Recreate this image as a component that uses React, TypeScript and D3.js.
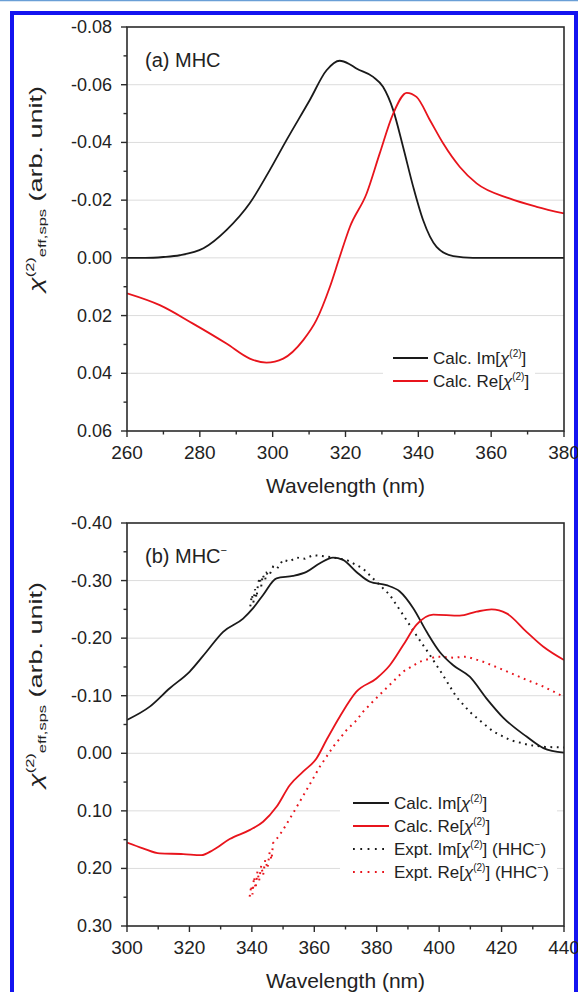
import React from 'react';
import * as d3 from 'd3';

const W = 578;
const H = 992;
const FONT = 'Arial, "Liberation Sans", Helvetica, sans-serif';
const RED = '#e8141c';
const BLACK = '#1a1a1a';
const AXIS = '#2b2b2b';

// (a) MHC — [wavelength nm, chi value]
const mhcCalcIm: [number, number][] = [
  [260, 0], [265, 0], [270, -0.0003], [274.5, -0.0009], [281, -0.0033], [287.3, -0.0096],
  [293.7, -0.0189], [299.2, -0.0304], [303.8, -0.0408], [310.2, -0.0547], [314.8, -0.065],
  [318.4, -0.0683], [321, -0.0672], [323, -0.0656], [327.6, -0.0627], [330.3, -0.0593],
  [333.1, -0.0512], [335.8, -0.0385], [338.6, -0.0246], [341.3, -0.0131], [345, -0.0038],
  [349.6, -0.0006], [355, 0], [380, 0],
];
const mhcCalcRe: [number, number][] = [
  [260, 0.0123], [269, 0.0164], [278, 0.0227], [287.3, 0.0297], [293.7, 0.0349], [298.3, 0.0363],
  [302.9, 0.0349], [308.4, 0.0285], [312, 0.0216], [315.7, 0.0101], [318.4, -0.0003],
  [321.2, -0.0107], [325.8, -0.0223], [329.4, -0.0362], [333.1, -0.05], [336.8, -0.0572],
  [339.5, -0.0558], [343.2, -0.0477], [346.8, -0.0397], [351.4, -0.0315], [356, -0.0258],
  [365, -0.0206], [372.5, -0.0177], [380, -0.0154],
];

// (b) MHC- calculated and HHC- experiment
const mhcnCalcIm: [number, number][] = [
  [300, -0.058], [307.3, -0.081], [313.7, -0.113], [320.1, -0.142], [325.4, -0.176], [330.8, -0.211],
  [337.2, -0.234], [340.4, -0.252], [343.6, -0.275], [347.9, -0.304], [353.2, -0.308], [357.5, -0.315],
  [361.8, -0.33], [366, -0.34], [369.2, -0.336], [373.5, -0.315], [377.8, -0.298], [383.1, -0.292],
  [387.4, -0.281], [391.7, -0.252], [396, -0.211], [400.2, -0.176], [404.5, -0.153], [409.8, -0.133],
  [415.2, -0.095], [420.5, -0.062], [428, -0.029], [433.4, -0.009], [440, -0.001],
];
const mhcnCalcRe: [number, number][] = [
  [300, 0.155], [305.1, 0.165], [310.5, 0.174], [318, 0.175], [323.8, 0.177], [327.6, 0.168],
  [332.9, 0.149], [339.4, 0.133], [343.6, 0.119], [347.9, 0.093], [352.2, 0.055], [356.4, 0.032],
  [360.7, 0.009], [363.9, -0.023], [368.2, -0.064], [373.5, -0.107], [379.9, -0.13], [384.2, -0.153],
  [388.5, -0.188], [392.7, -0.223], [398.1, -0.241], [406.6, -0.239], [412, -0.246], [416.8, -0.25],
  [421.6, -0.243], [428, -0.211], [433.4, -0.185], [440, -0.162],
];
const hhcExptIm: [number, number][] = [
  [339.5, -0.255], [340, -0.275], [340.5, -0.262], [341, -0.285], [341.5, -0.27], [342, -0.295],
  [342.5, -0.305], [343, -0.29], [343.5, -0.31], [344.2, -0.3], [344.7, -0.313], [345.5, -0.308],
  [346.8, -0.324], [348, -0.32], [350, -0.336], [352, -0.333], [354.3, -0.34], [357, -0.338],
  [359.6, -0.344], [362, -0.343], [365, -0.341], [370.3, -0.336], [375.6, -0.321], [379.9, -0.298],
  [384.2, -0.275], [388.5, -0.24], [392.7, -0.205], [397, -0.171], [401.2, -0.136], [405.5, -0.098],
  [409.8, -0.072], [414.1, -0.052], [417.3, -0.038], [422.7, -0.023], [429.1, -0.014], [434, -0.011],
  [440, -0.01],
];
const hhcExptRe: [number, number][] = [
  [339.3, 0.249], [339.8, 0.23], [340.2, 0.245], [340.7, 0.215], [341.2, 0.235], [341.8, 0.205],
  [342.3, 0.222], [343, 0.195], [343.6, 0.212], [344.3, 0.185], [345, 0.2], [345.7, 0.172],
  [346.3, 0.185], [346.8, 0.156], [348.5, 0.145], [350, 0.133], [353.2, 0.104], [357.5, 0.064],
  [361.8, 0.023], [366, -0.011], [370.3, -0.04], [373.5, -0.057], [375.6, -0.072], [378.8, -0.09],
  [384.2, -0.119], [388.5, -0.142], [393.8, -0.159], [399.1, -0.168], [404.5, -0.166], [408.8, -0.168],
  [414.1, -0.159], [420.5, -0.145], [426.9, -0.13], [433.4, -0.116], [440, -0.098],
];

const xTicksA = [260, 280, 300, 320, 340, 360, 380];
const yTicksA = [-0.08, -0.06, -0.04, -0.02, 0, 0.02, 0.04, 0.06];
const xTicksB = [300, 320, 340, 360, 380, 400, 420, 440];
const yTicksB = [-0.4, -0.3, -0.2, -0.1, 0, 0.1, 0.2, 0.3];

const LEFT = 127;
const RIGHT = 564;

type Series = { data: [number, number][]; color: string; dotted?: boolean };
type LegendItem = { color: string; dotted?: boolean; pre: string; post?: boolean };

const midpoints = (t: number[]) => t.slice(0, -1).map((v, i) => (v + t[i + 1]) / 2);

const Chi = ({ pre, post }: { pre: string; post?: boolean }) => (
  <>
    {pre}
    <tspan fontStyle="italic">χ</tspan>
    <tspan fontSize={10} dy={-7}>(2)</tspan>
    <tspan dy={7}>]</tspan>
    {post && (
      <>
        <tspan> (HHC</tspan>
        <tspan fontSize={10} dy={-7}>−</tspan>
        <tspan dy={7}>)</tspan>
      </>
    )}
  </>
);

function Panel(props: {
  id: string;
  top: number;
  bottom: number;
  xTicks: number[];
  yTicks: number[];
  series: Series[];
  title: string;
  titleSup?: boolean;
  legend: LegendItem[];
  legendBox: { x0: number; x1: number; y0: number; y1: number };
  legendLine: [number, number];
  legendY0: number;
}) {
  const { id, top, bottom, xTicks, yTicks, series, legend, legendBox, legendLine, legendY0 } = props;
  const x = d3.scaleLinear().domain([xTicks[0], xTicks[xTicks.length - 1]]).range([LEFT, RIGHT]);
  const y = d3.scaleLinear().domain([yTicks[0], yTicks[yTicks.length - 1]]).range([top, bottom]);
  const line = (s: Series) =>
    d3
      .line<[number, number]>()
      .x((d) => x(d[0]))
      .y((d) => y(d[1]))
      .curve(s.dotted ? d3.curveLinear : d3.curveMonotoneX)(s.data) || '';

  const xMinor = midpoints(xTicks);
  const yMinor = midpoints(yTicks);
  const cy = top + 162;

  return (
    <g>
      <defs>
        <clipPath id={id}>
          <rect x={LEFT} y={top} width={RIGHT - LEFT} height={bottom - top} />
        </clipPath>
      </defs>
      {/* grid */}
      {yTicks.slice(1, -1).map((t) => (
        <line key={t} x1={LEFT} x2={RIGHT} y1={y(t)} y2={y(t)} stroke="#dcdcdc" strokeWidth={1} />
      ))}
      {/* legend background */}
      <rect x={legendBox.x0} y={legendBox.y0} width={legendBox.x1 - legendBox.x0} height={legendBox.y1 - legendBox.y0} fill="#fff" />
      {/* series */}
      <g clipPath={`url(#${id})`}>
        {series.map((s, i) => (
          <path
            key={i}
            d={line(s)}
            fill="none"
            stroke={s.color}
            strokeWidth={s.dotted ? 2 : 1.8}
            strokeDasharray={s.dotted ? '1.8 4.6' : undefined}
          />
        ))}
      </g>
      {/* frame */}
      <rect x={LEFT} y={top} width={RIGHT - LEFT} height={bottom - top} fill="none" stroke={AXIS} strokeWidth={1.6} />
      {/* y ticks */}
      {yTicks.map((t) => (
        <g key={t}>
          <line x1={LEFT - 6} x2={LEFT} y1={y(t)} y2={y(t)} stroke={AXIS} strokeWidth={1.4} />
          <text x={LEFT - 15} y={y(t) + 6} textAnchor="end" fontSize={18} fill="#222" fontFamily={FONT}>
            {t.toFixed(2)}
          </text>
        </g>
      ))}
      {yMinor.map((t) => (
        <line key={t} x1={LEFT - 3.5} x2={LEFT} y1={y(t)} y2={y(t)} stroke={AXIS} strokeWidth={1.4} />
      ))}
      {/* x ticks */}
      {xTicks.map((t) => (
        <g key={t}>
          <line x1={x(t)} x2={x(t)} y1={bottom} y2={bottom + 6} stroke={AXIS} strokeWidth={1.4} />
          <text x={x(t)} y={bottom + 28} textAnchor="middle" fontSize={19} fill="#222" fontFamily={FONT}>
            {t}
          </text>
        </g>
      ))}
      {xMinor.map((t) => (
        <line key={t} x1={x(t)} x2={x(t)} y1={bottom} y2={bottom + 3.5} stroke={AXIS} strokeWidth={1.4} />
      ))}
      <text x={(LEFT + RIGHT) / 2} y={bottom + 62} textAnchor="middle" fontSize={21} fill="#222" fontFamily={FONT}>
        Wavelength (nm)
      </text>
      {/* y label */}
      <text
        transform={`translate(42, ${cy}) rotate(-90) scale(1.5, 1)`}
        textAnchor="middle"
        fontSize={18}
        fill="#222"
        fontFamily={FONT}
      >
        <tspan fontStyle="italic">χ</tspan>
        <tspan fontSize={11} dy={-8}>(2)</tspan>
        <tspan fontSize={11} dy={12}>eff,sps</tspan>
        <tspan dy={-4}> (arb. unit)</tspan>
      </text>
      {/* panel title */}
      <text x={145} y={top + 40} fontSize={20} fill="#222" fontFamily={FONT}>
        {props.title}
        {props.titleSup && <tspan fontSize={11} dy={-9}>−</tspan>}
      </text>
      {/* legend */}
      {legend.map((l, i) => {
        const ly = legendY0 + i * 23;
        return (
          <g key={i}>
            <line
              x1={legendLine[0]}
              x2={legendLine[1]}
              y1={ly}
              y2={ly}
              stroke={l.color}
              strokeWidth={l.dotted ? 2 : 1.8}
              strokeDasharray={l.dotted ? '1.8 5.5' : undefined}
            />
            <text x={legendLine[1] + 5} y={ly + 6} fontSize={17} fill="#222" fontFamily={FONT}>
              <Chi pre={l.pre} post={l.post} />
            </text>
          </g>
        );
      })}
    </g>
  );
}

export default function App() {
  return (
    <svg
      width={W}
      height={H}
      viewBox={`0 0 ${W} ${H}`}
      style={{ position: 'absolute', left: 0, top: 0, background: '#fff' }}
    >
      <rect x={0} y={0} width={W} height={H} fill="#fff" />
      <line x1={0} x2={W} y1={0.5} y2={0.5} stroke="#6a9fd6" strokeWidth={1.5} />
      <rect x={12} y={13} width={564} height={1010} fill="none" stroke="#1414f0" strokeWidth={4} />
      <Panel
        id="clipA"
        top={27}
        bottom={431}
        xTicks={xTicksA}
        yTicks={yTicksA}
        series={[
          { data: mhcCalcIm, color: BLACK },
          { data: mhcCalcRe, color: RED },
        ]}
        title="(a) MHC"
        legend={[
          { color: BLACK, pre: 'Calc. Im[' },
          { color: RED, pre: 'Calc. Re[' },
        ]}
        legendBox={{ x0: 383, x1: 535, y0: 344, y1: 394 }}
        legendLine={[393, 428]}
        legendY0={358}
      />
      <Panel
        id="clipB"
        top={523}
        bottom={926}
        xTicks={xTicksB}
        yTicks={yTicksB}
        series={[
          { data: hhcExptIm, color: BLACK, dotted: true },
          { data: hhcExptRe, color: RED, dotted: true },
          { data: mhcnCalcIm, color: BLACK },
          { data: mhcnCalcRe, color: RED },
        ]}
        title="(b) MHC"
        titleSup
        legend={[
          { color: BLACK, pre: 'Calc. Im[' },
          { color: RED, pre: 'Calc. Re[' },
          { color: BLACK, dotted: true, pre: 'Expt. Im[', post: true },
          { color: RED, dotted: true, pre: 'Expt. Re[', post: true },
        ]}
        legendBox={{ x0: 340, x1: 557, y0: 790, y1: 886 }}
        legendLine={[353, 389]}
        legendY0={803}
      />
    </svg>
  );
}
